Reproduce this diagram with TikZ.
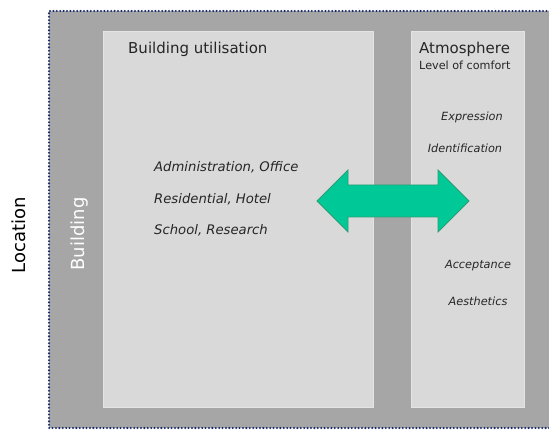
\documentclass[tikz,border=0pt]{standalone}
\usepackage{fontspec}
\setmainfont{DejaVu Sans}
\usetikzlibrary{positioning}
\definecolor{framegray}{HTML}{A6A6A6}
\definecolor{panelgray}{HTML}{D9D9D9}
\definecolor{dotblue}{HTML}{1A2A6A}
\definecolor{arrowgreen}{HTML}{00C896}
\definecolor{arrowedge}{HTML}{2E9E74}
\definecolor{inktext}{HTML}{262626}

\begin{document}
\begin{tikzpicture}[x=1pt, y=-1pt,
    panel/.style={fill=panelgray, draw=panelgray!70!white, line width=0.6pt,
        anchor=north west, inner sep=0pt},
    head/.style={font=\fontsize{15}{18}\selectfont, text=inktext, anchor=west, inner sep=0pt},
    subhead/.style={font=\fontsize{11.2}{13}\selectfont, text=inktext, anchor=west, inner sep=0pt},
    item/.style={font=\fontsize{13.2}{16}\selectfont\itshape, text=inktext, anchor=west, inner sep=0pt},
    mood/.style={font=\fontsize{11.3}{14}\selectfont\itshape, text=inktext, inner sep=0pt},
    side/.style={font=\fontsize{18}{21}\selectfont, rotate=90, inner sep=0pt},
    border/.style={draw=dotblue, line width=2.3pt, line cap=round, dash pattern=on 0pt off 3.4pt},
    twoway/.style={fill=arrowgreen, draw=arrowedge, line width=0.8pt, line join=miter}
]
\useasboundingbox (0,0) rectangle (549,430);
\clip (0,0) rectangle (549,430);

% location frame and building band
\fill[framegray] (49,11) rectangle (560,428);
\draw[border] (560,11) -| (49,428) -- (560,428);

% panels
\node[panel, minimum width=270pt, minimum height=376pt] (usage) at (103,31) {};
\node[panel, minimum width=113pt, minimum height=376pt] (atmos) at (411,31) {};

% side labels
\node[side, text=black] (location) at (19,235) {Location};
\node[side, text=white] (building) at (80,234) {Building};

% building utilisation
\node[head] (usagehead) at (128,49) {Building utilisation};
\node[item] (office) at (154,167) {Administration, Office};
\node[item] (hotel) at (154,199) {Residential, Hotel};
\node[item] (school) at (154,230) {School, Research};

% atmosphere
\node[head] (atmoshead) at (419,49) {Atmosphere};
\node[subhead] (comfort) at (419,65) {Level of comfort};
\node[mood] (expression) at (472,117) {Expression};
\node[mood] (identity) at (465,148) {Identification};
\node[mood] (acceptance) at (478,266) {Acceptance};
\node[mood] (aesthetics) at (478,301) {Aesthetics};

% double arrow between the panels
\draw[twoway] (317,201) -- (348,170) -- (348,185) -- (438,185) -- (438,170)
    -- (469,201) -- (438,232) -- (438,217) -- (348,217) -- (348,232) -- cycle;
\end{tikzpicture}
\end{document}
